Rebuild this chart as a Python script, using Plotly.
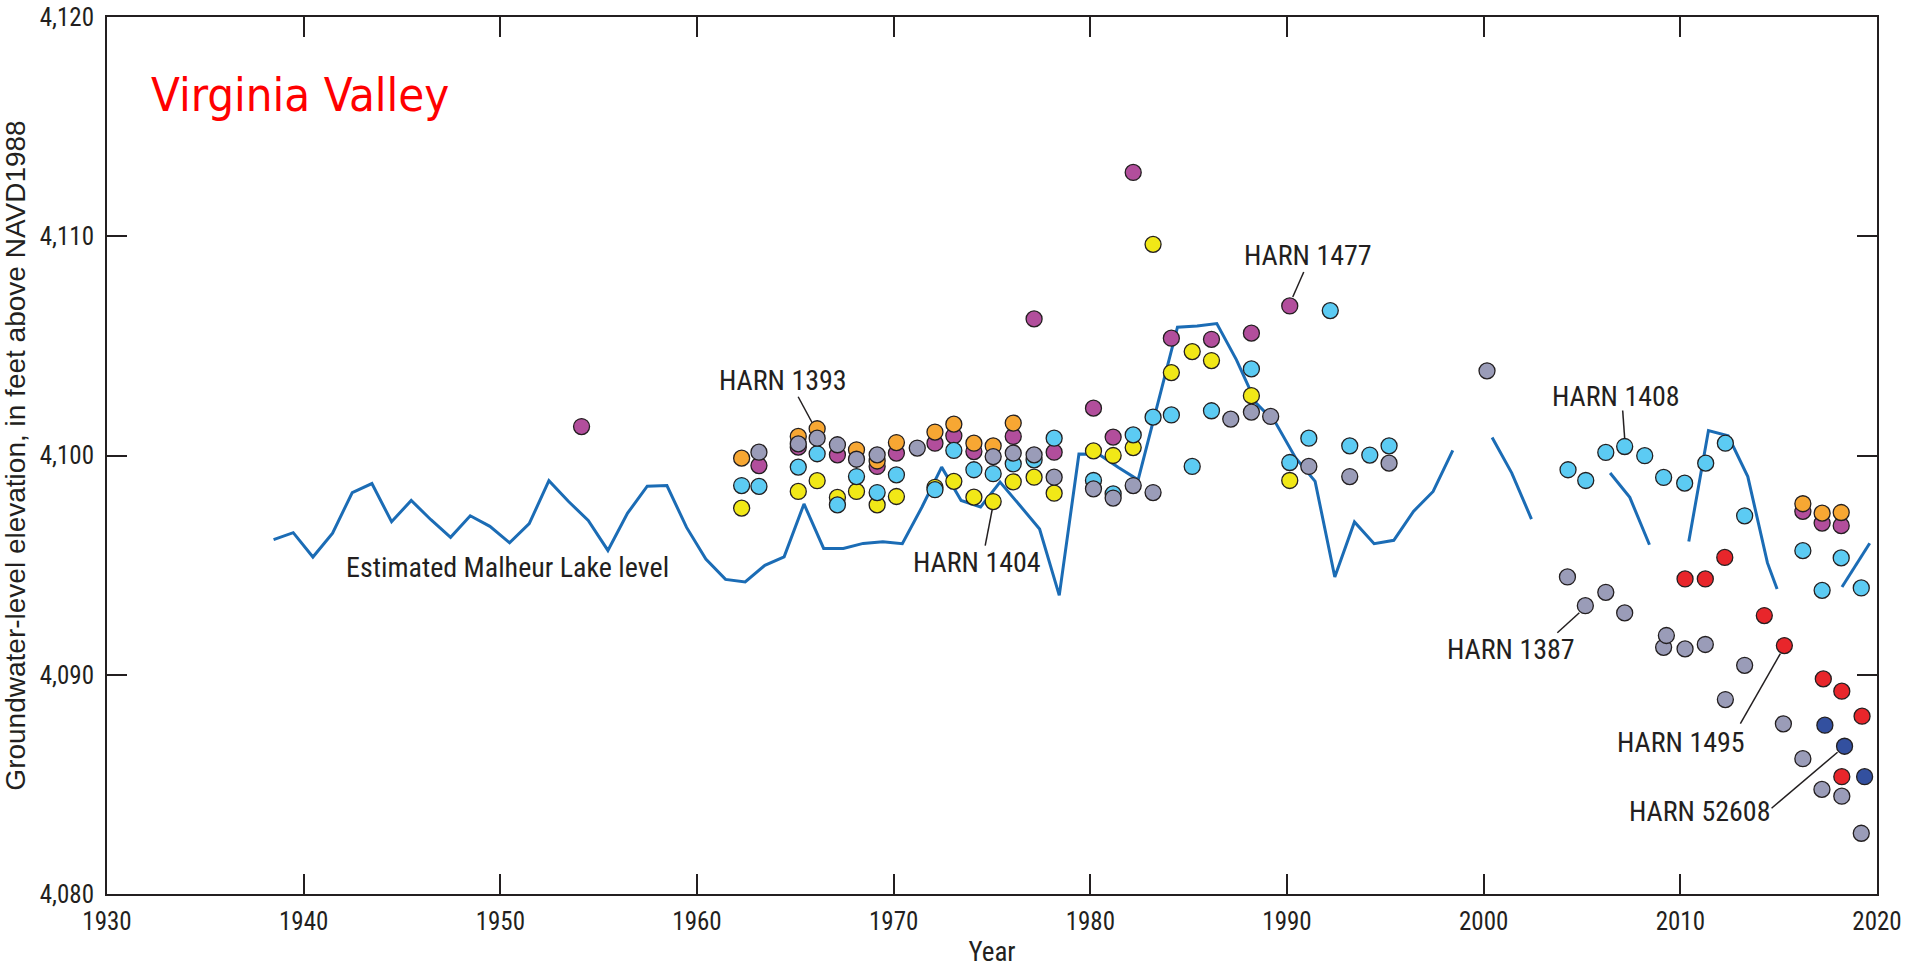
import plotly.graph_objects as go

# ---------------- data ----------------
lake_year = [1938.47, 1939.47, 1940.47, 1941.47, 1942.47, 1943.47, 1944.47, 1945.47, 1946.47, 1947.47,
             1948.47, 1949.47, 1950.47, 1951.47, 1952.47, 1953.47, 1954.47, 1955.47, 1956.47, 1957.47,
             1958.47, 1959.47, 1960.45, 1961.45, 1962.45, 1963.45, 1964.43, 1965.44, 1966.44, 1967.44,
             1968.45, 1969.45, 1970.44, 1971.44, 1972.44, 1973.43, 1974.42, 1975.41, 1976.42, 1977.42,
             1978.42, 1979.42, 1980.43, 1981.43, 1982.43, 1983.43, 1984.43, 1985.43, 1986.43, 1987.43,
             1988.43, 1989.43, 1990.43, 1991.43, 1992.43, 1993.43, 1994.43, 1995.43, 1996.43, 1997.43,
             1998.43, 1999.43, 2000.43, 2001.43, 2002.43, 2003.43, 2006.43, 2007.43, 2008.43, 2009.43,
             2010.43, 2011.43, 2012.43, 2013.43, 2014.43, 2014.92, 2016.5, 2018.22, 2019.63]
lake_level = [4096.16, 4096.48, 4095.37, 4096.46, 4098.31, 4098.72, 4096.98, 4097.95, 4097.07, 4096.27,
              4097.25, 4096.77, 4096.02, 4096.89, 4098.85, 4097.90, 4097.04, 4095.67, 4097.37, 4098.60,
              4098.63, 4096.72, 4095.28, 4094.35, 4094.23, 4094.99, 4095.38, 4097.79, 4095.76, 4095.76,
              4095.99, 4096.07, 4095.98, 4097.65, 4099.47, 4097.95, 4097.65, 4098.79, 4097.72, 4096.65,
              4093.62, 4100.07, 4100.06, 4099.45, 4098.89, 4102.40, 4105.85, 4105.91, 4106.02, 4104.36,
              4102.39, 4101.48, 4099.90, 4098.82, 4094.46, 4096.97, 4095.98, 4096.13, 4097.45, 4098.36,
              4100.23, None, 4100.82, 4099.20, 4097.10, None, 4099.20, 4098.09, 4095.93, None,
              4096.08, 4101.14, 4100.90, 4099.04, 4095.10, 4093.91, None, 4094.00, 4096.00]

# HARN 1477 (magenta)
h1477_year = [1954.13, 1963.15, 1965.15, 1967.14, 1969.16, 1970.14, 1972.10, 1973.06, 1974.08, 1976.08,
              1977.14, 1978.16, 1980.16, 1981.16, 1982.18, 1984.12, 1986.16, 1988.19, 1990.14, 2016.23,
              2017.21, 2018.18]
h1477_val = [4101.32, 4099.54, 4100.38, 4100.03, 4099.50, 4100.11, 4100.56, 4100.90, 4100.18, 4100.87,
             4106.23, 4100.15, 4102.16, 4100.84, 4112.91, 4105.35, 4105.30, 4105.58, 4106.82, 4097.45,
             4096.92, 4096.80]

# HARN 1393 (orange)
h1393_year = [1962.27, 1965.15, 1966.11, 1968.11, 1969.16, 1970.14, 1972.10, 1973.06, 1974.08, 1975.06,
              1976.08, 2016.23, 2017.21, 2018.18]
h1393_val = [4099.88, 4100.87, 4101.22, 4100.26, 4099.75, 4100.59, 4101.07, 4101.43, 4100.56, 4100.44,
             4101.48, 4097.80, 4097.37, 4097.40]

# HARN 1404 (yellow)
h1404_year = [1962.27, 1965.15, 1966.11, 1967.14, 1968.11, 1969.16, 1970.14, 1972.10, 1973.06, 1974.08,
              1975.06, 1976.08, 1977.14, 1978.16, 1980.16, 1981.16, 1982.18, 1983.19, 1984.12, 1985.18,
              1986.16, 1988.19, 1990.14]
h1404_val = [4097.60, 4098.36, 4098.85, 4098.09, 4098.36, 4097.75, 4098.13, 4098.55, 4098.82, 4098.10,
             4097.90, 4098.80, 4099.01, 4098.28, 4100.21, 4100.00, 4100.36, 4109.63, 4103.78, 4104.74,
             4104.33, 4102.73, 4098.86]

# HARN 1408 (cyan)
h1408_year = [1962.27, 1963.15, 1965.15, 1966.11, 1967.14, 1968.11, 1969.16, 1970.14, 1972.10, 1973.06,
              1974.08, 1975.06, 1976.08, 1977.14, 1978.16, 1980.16, 1981.16, 1982.18, 1983.19, 1984.12,
              1985.18, 1986.16, 1988.19, 1990.14, 1991.11, 1992.20, 1993.19, 1994.21, 1995.19, 2004.29,
              2005.19, 2006.21, 2007.17, 2008.19, 2009.15, 2010.22, 2011.29, 2012.29, 2013.27, 2016.23,
              2017.21, 2018.18, 2019.20]
h1408_val = [4098.63, 4098.59, 4099.47, 4100.08, 4097.75, 4099.04, 4098.31, 4099.12, 4098.44, 4100.23,
             4099.35, 4099.17, 4099.62, 4099.80, 4100.79, 4098.86, 4098.25, 4100.94, 4101.75, 4101.85,
             4099.50, 4102.04, 4103.95, 4099.68, 4100.79, 4106.61, 4100.44, 4100.02, 4100.44, 4099.35,
             4098.86, 4100.14, 4100.41, 4099.99, 4099.00, 4098.74, 4099.65, 4100.56, 4097.25, 4095.66,
             4093.85, 4095.33, 4093.96]

# HARN 1387 (gray)
h1387_year = [1963.15, 1965.15, 1966.11, 1967.14, 1968.11, 1969.16, 1971.20, 1975.06, 1976.08, 1977.14,
              1978.16, 1980.16, 1981.16, 1982.18, 1983.19, 1987.14, 1988.19, 1989.17, 1991.11, 1993.19,
              1995.19, 2000.17, 2004.26, 2005.17, 2006.21, 2007.17, 2009.15, 2009.29, 2010.24, 2011.27,
              2012.29, 2013.27, 2015.24, 2016.23, 2017.20, 2018.21, 2019.20]
h1387_val = [4100.15, 4100.53, 4100.79, 4100.49, 4099.83, 4100.03, 4100.34, 4099.95, 4100.11, 4100.03,
             4099.01, 4098.48, 4098.06, 4098.63, 4098.31, 4101.66, 4101.98, 4101.78, 4099.50, 4099.04,
             4099.65, 4103.86, 4094.46, 4093.15, 4093.76, 4092.82, 4091.25, 4091.79, 4091.18, 4091.38,
             4088.87, 4090.43, 4087.76, 4086.17, 4084.77, 4084.46, 4082.77]

# HARN 1495 (red)
h1495_year = [2010.24, 2011.27, 2012.26, 2014.27, 2015.29, 2017.27, 2018.21, 2018.21, 2019.24]
h1495_val = [4094.37, 4094.37, 4095.35, 4092.70, 4091.33, 4089.81, 4089.25, 4085.35, 4088.11]

# HARN 52608 (navy)
h52608_year = [2017.35, 2018.35, 2019.37]
h52608_val = [4087.70, 4086.74, 4085.35]

x_ticks = [1930, 1940, 1950, 1960, 1970, 1980, 1990, 2000, 2010, 2020]
y_ticks = [4080, 4090, 4100, 4110, 4120]

# ---------------- styling ----------------
NARROW = "Liberation Sans Narrow, Arial Narrow, Roboto Condensed, sans-serif"
INK = "#231F20"

wells = [
    ("HARN 1477", h1477_year, h1477_val, "#B24E9C"),
    ("HARN 1393", h1393_year, h1393_val, "#F7A733"),
    ("HARN 1404", h1404_year, h1404_val, "#F1E817"),
    ("HARN 1408", h1408_year, h1408_val, "#5CCBF3"),
    ("HARN 1387", h1387_year, h1387_val, "#9A9CB8"),
    ("HARN 1495", h1495_year, h1495_val, "#E8262B"),
    ("HARN 52608", h52608_year, h52608_val, "#33509F"),
]

fig = go.Figure()
fig.add_trace(go.Scatter(x=lake_year, y=lake_level, mode="lines", name="Estimated Malheur Lake level",
                         line=dict(color="#1B6CB5", width=3), connectgaps=False, showlegend=False))
for name, xs, ys, col in wells:
    fig.add_trace(go.Scatter(x=xs, y=ys, mode="markers", name=name, showlegend=False,
                             marker=dict(size=16, color=col, line=dict(color=INK, width=1.3))))

# labels: (text, well data, target year, text offset px (dx, dy down), leader start/end offsets px)
labels = [
    ("HARN 1393", h1393_year, h1393_val, 1966.11, (-34, -48), (-19, -32), (-5, -6)),
    ("HARN 1404", h1404_year, h1404_val, 1975.06, (-16, 61), (-8, 44), (-1, 8)),
    ("HARN 1477", h1477_year, h1477_val, 1990.14, (18, -50), (14, -34), (3, -9)),
    ("HARN 1408", h1408_year, h1408_val, 2007.17, (-9, -50), (-2, -36), (0, -8)),
    ("HARN 1387", h1387_year, h1387_val, 2005.17, (-74, 44), (-28, 27), (-6, 7)),
    ("HARN 1495", h1495_year, h1495_val, 2015.29, (-103, 97), (-44, 78), (-4, 8)),
    ("HARN 52608", h52608_year, h52608_val, 2018.35, (-145, 65), (-73, 62), (-7, 6)),
]
annotations = []
shapes = []
for text, xs, ys, tx, toff, l0, l1 in labels:
    i = xs.index(tx)
    px, py = xs[i], ys[i]
    annotations.append(dict(x=px, y=py, xref="x", yref="y", text=text, showarrow=False,
                            xshift=toff[0], yshift=-toff[1], xanchor="center", yanchor="middle",
                            font=dict(family=NARROW, size=28, color=INK)))
    shapes.append(dict(type="line", xref="x", yref="y", xsizemode="pixel", ysizemode="pixel",
                       xanchor=px, yanchor=py, x0=l0[0], x1=l1[0], y0=-l0[1], y1=-l1[1],
                       line=dict(color=INK, width=1.5), layer="below"))

annotations.append(dict(x=1950.34, y=4094.88, xref="x", yref="y", text="Estimated Malheur Lake level",
                        showarrow=False, xanchor="center", yanchor="middle",
                        font=dict(family=NARROW, size=28, color=INK)))
annotations.append(dict(x=0.024, y=0.912, xref="paper", yref="paper", text="Virginia Valley",
                        showarrow=False, xanchor="left", yanchor="middle",
                        font=dict(family="DejaVu Sans Condensed, Roboto Condensed, sans-serif",
                                  size=47, color="#FF0000", weight=500)))

axis_common = dict(showline=True, linecolor=INK, linewidth=2, mirror="ticks", ticks="inside",
                   ticklen=20, tickwidth=2, tickcolor=INK, showgrid=False, zeroline=False,
                   automargin=False, ticklabeloverflow="allow",
                   tickfont=dict(family=NARROW, size=25, color=INK))

fig.update_layout(
    width=1907, height=968,
    margin=dict(l=107, r=30, t=17, b=74),
    paper_bgcolor="white", plot_bgcolor="white",
    xaxis=dict(range=[1930, 2020], tickvals=x_ticks, ticktext=[str(v) for v in x_ticks],
               title=dict(text="Year", font=dict(family=NARROW, size=27, color=INK), standoff=12),
               ticklabelstandoff=4, **axis_common),
    yaxis=dict(range=[4080, 4120], tickvals=y_ticks, ticktext=[f"{v:,}" for v in y_ticks],
               title=dict(text="Groundwater-level elevation, in feet above NAVD1988",
                          font=dict(family="Liberation Sans, Arial, sans-serif", size=28, color=INK),
                          standoff=14),
               ticklabelstandoff=6, **axis_common),
    annotations=annotations,
    shapes=shapes,
)

# remove the default page margin so the figure fills the window exactly; hide the modebar
fig.write_html("out.html", config={"displayModeBar": False},
               post_script="document.body.style.margin='0px';")
